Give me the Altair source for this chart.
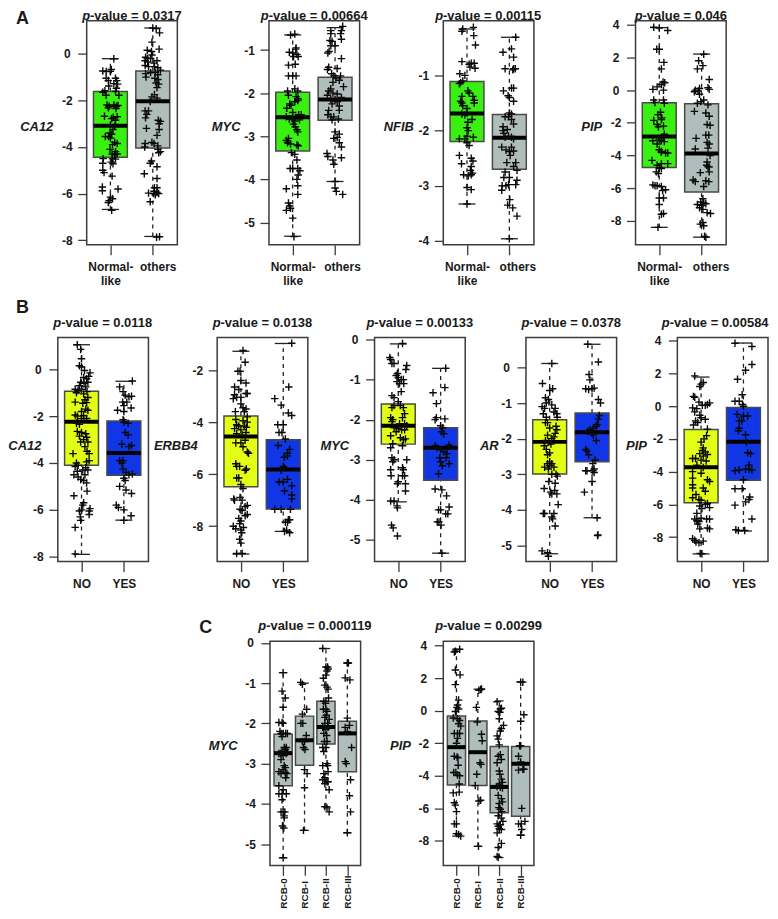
import json
import altair as alt
import pandas as pd

# ---- box statistics: (low whisker, q1, median, q3, high whisker) per group ----
STATS_A1 = [(-6.68, -4.44, -3.09, -1.62, -0.21), (-7.84, -4.04, -2.04, -0.74, 1.11)]
STATS_A2 = [(-5.32, -3.34, -2.56, -1.98, -0.65), (-4.05, -2.63, -2.15, -1.63, -0.48)]
STATS_A3 = [(-3.33, -2.2, -1.69, -1.11, -0.16), (-3.96, -2.7, -2.13, -1.71, -0.31)]
STATS_A4 = [(-8.4, -4.73, -2.84, -0.77, 3.83), (-9.0, -6.23, -3.88, -0.83, 2.21)]
STATS_B1 = [(-7.9, -4.1, -2.24, -0.94, 1.05), (-6.44, -4.52, -3.57, -2.21, -0.51)]
STATS_B2 = [(-9.07, -6.48, -4.55, -3.77, -1.28), (-8.2, -7.34, -5.82, -4.68, -0.98)]
STATS_B3 = [(-4.05, -2.61, -2.15, -1.61, -0.11), (-5.33, -3.51, -2.7, -2.2, -0.72)]
STATS_B4 = [(-5.23, -2.99, -2.09, -1.47, 0.11), (-4.22, -2.65, -1.82, -1.28, 0.65)]
STATS_B5 = [(-9.03, -5.9, -3.73, -1.42, 1.78), (-7.63, -4.52, -2.17, -0.08, 3.86)]
STATS_C1 = [(-5.34, -3.55, -2.74, -2.27, -0.74), (-4.66, -3.04, -2.42, -1.82, -1.0),
            (-4.07, -2.51, -2.09, -1.45, -0.14), (-4.72, -3.2, -2.25, -1.95, -0.5)]
STATS_C2 = [(-7.7, -4.56, -2.24, -0.33, 3.77), (-8.33, -4.6, -2.55, -0.63, 1.32),
            (-9.02, -6.27, -4.68, -2.2, 0.6), (-7.64, -6.48, -3.26, -2.2, 1.77)]

# ---- jittered observations: (jitter, value) per group ----
A1_NORMAL = [(.08,-.21),(.02,-.67),(-.18,-.74),(-.1,-.76),(.0,-.75),(.12,-1.05),(.15,-1.15),(-.1,-1.05),(-.05,-1.15),(.08,-1.28),(.17,-1.3),(-.04,-1.38),(.14,-1.48),(-.13,-1.58),(-.18,-1.65),(.12,-1.6),(-.1,-1.78),(.2,-1.78),(-.08,-2.2),(-.03,-2.25),(.08,-2.2),(.14,-2.25),(.18,-2.22),(-.05,-2.32),(.13,-2.35),(-.14,-2.68),(.07,-2.72),(.16,-2.7),(.03,-2.78),(.12,-2.85),(.0,-3.05),(.1,-3.1),(.06,-3.25),(-.01,-3.4),(.03,-3.45),(-.12,-3.55),(-.04,-3.55),(.0,-3.62),(.1,-3.8),(.16,-3.85),(.05,-3.9),(-.01,-4.1),(.12,-4.2),(.04,-4.3),(.1,-4.32),(.16,-4.3),(.05,-4.5),(.12,-4.52),(-.17,-4.5),(.02,-4.65),(.06,-4.72),(-.18,-4.7),(-.18,-5.0),(-.15,-5.1),(.04,-5.25),(-.19,-5.72),(-.19,-5.88),(.18,-5.8),(.0,-6.15),(.05,-6.22),(-.03,-6.3),(-.05,-6.38),(.03,-6.72)]
A1_OTHERS = [(.0,1.11),(.08,1.08),(.16,.9),(-.02,.5),(.15,.2),(-.13,.15),(-.03,.1),(-.17,-.15),(-.13,-.2),(-.02,-.05),(-.18,-.3),(-.12,-.35),(-.05,-.2),(.1,-.3),(.03,-.4),(-.18,-.5),(-.1,-.55),(.04,-.55),(.12,-.6),(.18,-.7),(-.17,-.85),(-.05,-.8),(.06,-.8),(.12,-.9),(.05,-1.05),(.12,-1.1),(-.16,-1.0),(.08,-1.25),(.14,-1.3),(.1,-1.45),(-.02,-1.85),(.04,-1.75),(.1,-1.9),(-.06,-2.05),(-.18,-2.45),(-.1,-2.45),(-.14,-2.6),(-.17,-2.75),(.13,-2.85),(.18,-2.9),(.15,-3.0),(-.15,-3.2),(.15,-3.25),(.1,-3.5),(-.18,-3.85),(-.02,-3.8),(.03,-3.85),(.12,-3.95),(-.19,-4.0),(.12,-4.1),(.18,-4.2),(.14,-4.25),(-.03,-4.6),(-.06,-4.7),(.1,-4.85),(-.2,-5.15),(.1,-5.35),(.04,-5.75),(.1,-5.75),(.03,-5.9),(-.1,-5.98),(.1,-5.95),(.14,-6.0),(.06,-6.05),(.02,-6.0),(-.06,-6.35),(.16,-7.85),(.09,-7.87)]
A2_NORMAL = [(.05,-.63),(-.05,-.65),(.08,-.95),(.07,-.98),(-.08,-1.05),(.0,-1.07),(.1,-1.1),(.13,-1.15),(.02,-1.15),(-.1,-1.35),(.06,-1.33),(.08,-1.6),(-.1,-1.6),(.0,-1.6),(.05,-1.9),(-.12,-1.95),(.12,-1.95),(-.1,-2.05),(.08,-2.08),(.13,-2.13),(.05,-2.2),(-.07,-2.25),(.12,-2.17),(-.04,-2.28),(-.14,-2.35),(.0,-2.45),(.14,-2.5),(.2,-2.5),(-.15,-2.55),(-.08,-2.6),(.0,-2.62),(.05,-2.65),(.16,-2.62),(.02,-2.72),(.06,-2.78),(.1,-2.85),(.12,-2.9),(-.1,-3.05),(-.15,-3.1),(-.12,-3.15),(-.05,-3.18),(.1,-3.2),(.13,-3.22),(-.03,-3.38),(.05,-3.42),(.1,-3.55),(-.06,-3.75),(.0,-3.75),(.12,-3.75),(.17,-3.8),(.13,-3.9),(.1,-4.0),(.12,-4.15),(-.15,-4.22),(.12,-4.35),(-.1,-4.55),(-.07,-4.62),(-.05,-4.67),(-.15,-4.72),(.0,-4.9),(.03,-5.33)]
A2_OTHERS = [(.18,-.45),(.15,-.55),(-.1,-.55),(-.1,-.62),(.13,-.62),(.15,-.75),(-.12,-.78),(-.07,-.8),(-.1,-.9),(.0,-.9),(-.14,-1.03),(-.17,-1.07),(.15,-1.2),(-.15,-1.4),(-.18,-1.45),(.05,-1.43),(-.08,-1.55),(-.03,-1.6),(.02,-1.65),(.13,-1.6),(.1,-1.7),(-.05,-1.75),(.2,-1.85),(-.1,-1.9),(-.15,-1.95),(-.05,-2.0),(-.18,-2.05),(.05,-2.02),(.15,-2.1),(-.1,-2.15),(.0,-2.15),(.05,-2.2),(-.07,-2.25),(.1,-2.3),(-.15,-2.4),(.1,-2.4),(-.17,-2.5),(-.1,-2.55),(-.03,-2.55),(.08,-2.6),(-.07,-2.62),(.0,-2.9),(.1,-2.95),(.05,-3.03),(-.03,-3.05),(.1,-3.15),(.15,-3.25),(-.19,-3.4),(-.17,-3.47),(.15,-3.5),(-.05,-3.55),(-.03,-3.65),(.0,-4.05),(.0,-4.2),(.03,-4.28),(.18,-4.35)]
A3_NORMAL = [(.15,-.13),(-.1,-.16),(-.12,-.2),(.16,-.28),(.2,-.45),(-.12,-.75),(.1,-.78),(.17,-.78),(.05,-.8),(.07,-.85),(.19,-.87),(-.17,-.97),(-.05,-1.0),(-.1,-1.1),(-.15,-1.13),(-.18,-1.15),(.02,-1.28),(.05,-1.32),(-.12,-1.38),(.14,-1.38),(-.15,-1.47),(.17,-1.45),(.17,-1.5),(-.12,-1.5),(.0,-1.6),(-.1,-1.55),(.0,-1.68),(-.12,-1.7),(-.05,-1.72),(.12,-1.8),(.02,-1.85),(.0,-1.95),(.03,-2.0),(.0,-2.1),(.15,-2.12),(-.18,-2.15),(-.05,-2.15),(.0,-2.22),(.05,-2.27),(-.18,-2.45),(.1,-2.5),(.14,-2.55),(-.13,-2.6),(.1,-2.65),(.08,-2.72),(.13,-2.77),(-.08,-2.8),(.1,-2.8),(.03,-2.82),(.0,-3.03),(.1,-3.07),(.0,-3.33)]
A3_OTHERS = [(.15,-.31),(.05,-.52),(-.15,-.58),(.1,-.67),(-.1,-.88),(.1,-.88),(.14,-.88),(.08,-.9),(-.14,-1.28),(.1,-1.23),(.05,-1.23),(-.03,-1.37),(.0,-1.4),(.1,-1.47),(.0,-1.68),(.05,-1.7),(-.1,-1.75),(-.02,-1.75),(.05,-1.8),(-.15,-1.93),(.1,-1.88),(-.15,-2.0),(-.05,-1.98),(-.13,-2.05),(-.1,-2.12),(-.02,-2.1),(.05,-2.12),(.1,-2.15),(-.18,-2.3),(.05,-2.3),(-.08,-2.35),(.0,-2.38),(.1,-2.37),(.02,-2.45),(-.06,-2.58),(.15,-2.58),(.1,-2.65),(.18,-2.72),(-.1,-2.75),(-.13,-2.85),(.0,-2.85),(.18,-2.9),(-.17,-3.0),(-.08,-3.0),(-.02,-2.98),(.15,-2.98),(-.18,-3.08),(.01,-3.25),(-.04,-3.35),(.08,-3.4),(.18,-3.55),(.0,-3.96)]
A4_NORMAL = [(-.13,3.85),(.0,3.8),(.2,3.65),(-.06,2.5),(.0,2.5),(.11,1.7),(.05,1.3),(.09,.5),(.13,.45),(.05,.35),(-.15,.05),(-.05,.2),(.1,.0),(-.13,-.6),(-.1,-.75),(.1,-.6),(.12,-.8),(.03,-1.35),(-.03,-1.5),(.06,-1.7),(-.13,-1.85),(.05,-1.8),(-.05,-2.1),(-.02,-2.25),(.1,-2.2),(.12,-2.7),(.1,-2.85),(.0,-3.0),(-.15,-3.1),(.05,-3.1),(-.05,-3.3),(.12,-3.15),(.0,-3.65),(.05,-3.75),(.15,-3.85),(.2,-3.85),(.05,-3.8),(-.17,-4.3),(.05,-4.5),(.2,-4.5),(-.05,-4.6),(.0,-4.75),(.05,-4.8),(-.07,-5.0),(-.02,-5.1),(-.15,-5.8),(-.1,-5.85),(-.05,-5.85),(.05,-5.9),(.08,-6.15),(.15,-6.1),(.0,-6.6),(.1,-6.6),(.0,-7.0),(.05,-7.6),(.1,-7.55),(-.03,-8.4)]
A4_OTHERS = [(.05,2.2),(-.07,1.8),(.03,1.5),(-.1,1.3),(.18,.65),(-.15,.0),(-.05,.1),(.15,.15),(.18,.05),(-.17,-.1),(-.08,-.05),(-.05,-.25),(.05,-.6),(-.02,-.7),(-.1,-.8),(.15,-.9),(-.17,-1.3),(.1,-1.4),(.18,-1.6),(.13,-2.1),(.2,-2.15),(-.13,-2.95),(.1,-2.75),(.17,-2.75),(.13,-3.2),(.18,-3.3),(-.15,-3.6),(.15,-3.55),(.2,-4.0),(.13,-4.4),(.12,-4.6),(.15,-4.7),(.18,-4.7),(.18,-5.0),(-.03,-5.05),(-.2,-5.5),(-.15,-5.6),(.1,-5.55),(.17,-5.6),(.05,-5.9),(.03,-6.65),(-.02,-6.85),(.05,-6.9),(-.1,-7.0),(.0,-7.05),(.1,-6.95),(-.05,-7.2),(.03,-7.3),(.13,-7.5),(.21,-7.55),(.03,-8.1),(.05,-8.3),(-.03,-8.2),(.07,-8.95),(.1,-9.0)]
B1_NO = [(-.1,1.05),(-.02,.85),(.0,.45),(-.05,.15),(.0,.1),(.07,-.05),(.2,-.15),(.17,-.3),(.12,-.4),(.05,-.35),(.15,-.55),(-.02,-.55),(.06,-.6),(-.05,-.7),(.1,-.75),(-.15,-.85),(-.08,-.9),(.0,-.85),(.13,-.95),(-.12,-1.0),(.05,-1.05),(.15,-1.2),(.08,-1.3),(-.15,-1.4),(.03,-1.45),(.12,-1.42),(.1,-1.7),(.0,-1.8),(.15,-1.75),(-.15,-1.95),(-.1,-2.0),(.05,-1.98),(.0,-2.1),(.12,-2.1),(-.12,-2.3),(-.05,-2.35),(-.1,-2.65),(.0,-2.7),(.1,-2.75),(-.05,-2.85),(.12,-2.9),(.05,-3.0),(-.02,-3.1),(.15,-3.1),(.08,-3.3),(.13,-3.5),(.18,-3.6),(-.2,-3.6),(.18,-3.9),(.12,-3.95),(-.12,-4.0),(-.15,-4.15),(-.08,-4.1),(.1,-4.2),(.15,-4.3),(-.1,-4.35),(.03,-4.3),(-.18,-4.5),(.08,-4.5),(-.08,-4.6),(-.02,-4.7),(.05,-4.75),(.12,-4.85),(.13,-5.2),(-.18,-5.4),(.05,-5.7),(.03,-5.8),(.2,-5.95),(.0,-6.0),(-.05,-6.05),(.18,-6.05),(.18,-6.2),(-.03,-6.3),(-.02,-6.45),(-.15,-6.75),(-.15,-7.88)]
B1_YES = [(.2,-.5),(-.1,-.75),(-.02,-.95),(.03,-1.1),(.12,-1.17),(.18,-1.15),(-.03,-1.4),(.07,-1.4),(.0,-1.55),(.17,-1.65),(-.15,-1.75),(.0,-1.8),(.1,-2.3),(.0,-2.25),(-.02,-2.15),(.03,-2.7),(.1,-2.8),(-.05,-3.2),(.18,-3.25),(.12,-3.3),(-.02,-3.9),(-.1,-3.9),(-.05,-4.0),(-.02,-4.25),(.05,-4.4),(.2,-4.47),(.12,-4.5),(.0,-4.65),(.03,-4.75),(-.1,-5.0),(.05,-5.15),(.18,-5.3),(-.18,-5.8),(-.13,-5.9),(.0,-6.0),(.17,-6.25),(.0,-6.45)]
B2_NO = [(.05,-1.25),(.1,-1.7),(-.07,-2.05),(-.02,-2.05),(.0,-2.4),(.12,-2.5),(-.15,-2.65),(-.05,-2.75),(.15,-2.9),(.12,-2.9),(-.15,-2.95),(-.1,-3.05),(.0,-3.05),(-.18,-3.1),(.0,-3.3),(.05,-3.45),(.12,-3.5),(-.13,-3.6),(.08,-3.6),(.15,-3.8),(-.12,-3.9),(.05,-3.95),(.15,-4.0),(-.1,-4.1),(-.05,-4.15),(.08,-4.15),(.13,-4.2),(-.15,-4.25),(.0,-4.3),(.12,-4.4),(-.1,-4.45),(.03,-4.5),(.1,-4.7),(-.12,-4.8),(.0,-4.8),(.05,-4.95),(.15,-5.15),(.18,-5.2),(-.12,-5.6),(-.1,-5.7),(-.03,-5.7),(.1,-5.85),(.13,-5.8),(-.1,-6.15),(-.05,-6.15),(.0,-6.4),(.05,-6.55),(-.02,-6.9),(-.17,-6.95),(-.15,-7.0),(.03,-7.0),(.1,-7.25),(.15,-7.2),(-.02,-7.35),(.03,-7.4),(.15,-7.55),(.1,-7.6),(-.05,-7.7),(.0,-7.8),(-.03,-7.9),(-.18,-8.0),(.06,-8.05),(-.12,-8.1),(.0,-8.15),(.02,-8.25),(-.03,-8.5),(.0,-8.65),(.03,-9.05),(-.1,-9.05)]
B2_YES = [(.2,-.97),(.13,-2.65),(-.2,-3.1),(-.05,-3.35),(.12,-3.65),(.2,-3.75),(-.13,-4.1),(.0,-4.1),(-.03,-4.4),(-.1,-4.4),(.05,-4.65),(-.12,-4.9),(.15,-5.05),(.1,-5.2),(.02,-5.35),(.1,-5.3),(.0,-5.7),(-.05,-5.85),(.03,-5.75),(-.1,-6.3),(.1,-6.2),(.0,-6.3),(.2,-6.45),(.03,-6.65),(.2,-6.8),(.2,-6.95),(-.2,-7.35),(-.05,-7.35),(.17,-7.35),(.12,-7.75),(.05,-7.85),(.1,-7.85),(.15,-7.75),(.03,-8.2),(.08,-8.15),(.15,-8.25)]
B3_NO = [(.1,-.1),(-.2,-.45),(-.18,-.5),(-.15,-.6),(-.1,-.6),(.2,-.65),(.18,-.75),(-.02,-.85),(-.05,-.9),(.0,-.95),(.07,-1.0),(.12,-1.0),(-.03,-1.05),(.03,-1.1),(.13,-1.1),(.07,-1.3),(-.15,-1.4),(-.1,-1.45),(.0,-1.55),(.05,-1.65),(-.15,-1.7),(-.1,-1.65),(.12,-1.7),(.15,-1.85),(-.18,-1.95),(-.13,-2.0),(.1,-1.95),(-.15,-2.05),(.03,-2.1),(.15,-2.1),(.2,-2.15),(-.1,-2.2),(.0,-2.22),(.08,-2.25),(-.05,-2.3),(.15,-2.25),(-.18,-2.4),(.05,-2.45),(.12,-2.5),(.17,-2.48),(-.13,-2.6),(.1,-2.65),(-.18,-2.7),(-.15,-2.95),(-.1,-3.0),(.2,-3.0),(-.13,-3.05),(.1,-3.2),(.12,-3.25),(-.18,-3.25),(-.17,-3.4),(.1,-3.4),(.15,-3.4),(.0,-3.55),(-.02,-3.6),(.17,-3.6),(.17,-3.78),(-.18,-4.03),(-.1,-4.03),(-.03,-4.15),(-.02,-4.2),(-.16,-4.63),(-.12,-4.7),(-.02,-4.9)]
B3_YES = [(.12,-.72),(.1,-1.2),(-.18,-1.33),(-.1,-1.6),(-.1,-1.95),(-.13,-2.0),(.1,-1.98),(.0,-2.15),(.05,-2.2),(.02,-2.3),(.07,-2.35),(.2,-2.63),(-.13,-2.65),(-.08,-2.7),(.0,-2.75),(.07,-2.8),(.15,-2.85),(.13,-2.95),(-.02,-2.95),(.0,-3.05),(.04,-3.15),(.2,-3.1),(-.05,-3.35),(-.13,-3.73),(.03,-3.75),(.14,-3.9),(.2,-4.18),(-.05,-4.25),(.0,-4.25),(.12,-4.35),(.17,-4.35),(-.08,-4.55),(-.04,-4.55),(.01,-4.63),(.03,-5.33)]
B4_NO = [(.05,.11),(-.17,-.45),(.07,-.6),(.0,-.65),(-.03,-.9),(-.1,-.85),(-.08,-1.0),(-.18,-1.1),(-.12,-1.15),(.05,-1.05),(.13,-1.15),(.1,-1.25),(.17,-1.3),(-.15,-1.3),(-.08,-1.4),(.18,-1.4),(-.1,-1.55),(-.05,-1.55),(.0,-1.7),(.15,-1.65),(.17,-1.75),(-.05,-1.9),(.13,-1.85),(.1,-1.95),(.05,-2.0),(-.1,-2.05),(-.02,-2.1),(-.13,-2.2),(.03,-2.15),(-.08,-2.3),(.0,-2.4),(-.05,-2.45),(-.05,-2.7),(.0,-2.65),(.05,-2.7),(-.12,-2.8),(.0,-2.75),(.1,-2.8),(-.03,-2.85),(.15,-3.0),(.05,-3.0),(.18,-3.05),(-.02,-3.2),(.13,-3.25),(-.13,-3.4),(.02,-3.5),(.12,-3.45),(.17,-3.55),(.05,-3.55),(.2,-3.85),(-.15,-4.1),(-.12,-4.1),(.1,-4.1),(.05,-4.2),(.07,-4.25),(.13,-4.45),(-.18,-5.15),(-.05,-5.2),(-.03,-5.3)]
B4_YES = [(-.1,.65),(.15,.15),(-.07,-.2),(-.05,-.35),(-.15,-.6),(-.08,-.62),(.0,-.6),(.05,-.58),(.15,-.9),(.2,-1.0),(.17,-1.35),(.15,-1.45),(.12,-1.6),(.1,-1.65),(.03,-1.7),(-.05,-1.75),(-.1,-1.8),(.0,-1.85),(.03,-1.9),(.1,-2.05),(-.15,-2.3),(-.12,-2.35),(-.08,-2.45),(.07,-2.6),(.02,-2.7),(-.12,-2.9),(-.15,-2.9),(.02,-2.9),(.05,-2.85),(.05,-2.95),(.0,-3.2),(-.18,-3.5),(.12,-4.22),(.13,-4.72),(.14,-4.7)]
B5_NO = [(-.15,1.85),(.05,1.45),(.0,1.35),(-.03,1.2),(-.18,.6),(-.15,.55),(-.05,.25),(.2,.2),(.15,.1),(.1,.05),(.03,.05),(-.2,-.1),(-.1,-.15),(-.15,-.35),(-.03,-.55),(.0,-.7),(.1,-.8),(-.13,-.9),(-.08,-1.0),(-.18,-1.15),(.15,-1.4),(.13,-1.8),(.07,-2.0),(.0,-2.2),(.05,-2.55),(.03,-2.7),(.1,-2.8),(-.03,-2.9),(.15,-2.95),(.05,-3.05),(-.2,-3.2),(-.13,-3.2),(.0,-3.3),(.12,-3.35),(-.1,-3.6),(.05,-3.75),(-.2,-4.0),(.0,-4.1),(-.2,-4.4),(.15,-4.5),(.2,-4.6),(-.2,-4.8),(.05,-5.0),(-.2,-5.0),(.1,-5.2),(-.12,-5.4),(-.2,-5.6),(-.05,-5.7),(.0,-5.75),(.15,-5.95),(.1,-6.0),(-.03,-6.1),(.2,-6.2),(.02,-6.25),(-.1,-6.55),(-.15,-6.9),(-.1,-7.0),(-.05,-7.05),(.0,-6.85),(.13,-6.9),(.2,-6.9),(-.08,-7.2),(-.03,-7.5),(.15,-7.45),(.2,-7.5),(-.2,-8.1),(-.15,-8.2),(-.12,-8.3),(-.05,-8.35),(.05,-8.25),(-.02,-9.0),(.02,-9.02)]
B5_YES = [(-.2,3.85),(.2,3.65),(.2,2.55),(.05,2.2),(-.14,1.65),(-.03,.7),(-.2,.3),(-.1,.3),(-.02,.1),(.0,.0),(-.15,-.5),(.0,-.6),(.1,-.6),(-.1,-.9),(-.04,-.9),(-.1,-1.35),(-.12,-1.5),(.05,-1.75),(.07,-2.2),(.1,-2.85),(.17,-2.9),(.13,-3.6),(.05,-3.85),(.13,-3.85),(.2,-3.9),(-.2,-3.95),(-.1,-3.9),(.0,-4.5),(-.2,-5.05),(-.03,-5.05),(.15,-5.55),(.13,-5.7),(.05,-5.85),(-.2,-6.05),(.2,-6.9),(-.18,-7.55),(-.12,-7.6),(.03,-7.6)]
C1_R0 = [(.0,-.74),(-.05,-1.2),(.1,-1.37),(.0,-1.6),(-.2,-1.98),(-.05,-1.98),(.0,-2.0),(-.15,-2.2),(-.1,-2.25),(.0,-2.25),(.12,-2.25),(.2,-2.25),(-.05,-2.33),(.15,-2.6),(.05,-2.6),(-.05,-2.7),(.1,-2.65),(-.2,-2.75),(-.12,-2.75),(.0,-2.8),(.15,-2.75),(.2,-2.72),(-.1,-2.9),(.05,-3.05),(.1,-3.1),(.0,-3.15),(-.2,-3.2),(-.1,-3.25),(.1,-3.22),(.18,-3.25),(.12,-3.35),(-.2,-3.55),(.0,-3.65),(-.2,-3.75),(.15,-3.75),(-.05,-3.75),(-.05,-3.9),(-.1,-4.2),(.0,-4.2),(.05,-4.3),(.08,-4.2),(.05,-4.35),(-.03,-4.55),(.03,-4.6),(.0,-5.34)]
C1_R1 = [(-.18,-.98),(-.1,-1.03),(.1,-1.65),(-.1,-1.77),(-.17,-2.0),(-.08,-2.0),(.08,-2.3),(-.1,-2.45),(.0,-2.45),(-.05,-2.6),(.02,-2.65),(.0,-3.15),(.12,-3.25),(.0,-3.6),(-.05,-4.66)]
C1_R2 = [(-.15,-.14),(.0,-.6),(.08,-.6),(.1,-.65),(.05,-.7),(.0,-.8),(-.12,-.88),(-.05,-1.05),(.05,-1.1),(.1,-1.15),(-.1,-1.45),(.12,-1.37),(-.02,-1.5),(.0,-1.65),(-.12,-1.65),(.05,-1.7),(.02,-1.8),(-.05,-1.85),(.15,-1.9),(-.05,-2.0),(.08,-2.0),(-.15,-2.1),(.0,-2.15),(.1,-2.1),(-.1,-2.25),(.03,-2.3),(-.07,-2.45),(.05,-2.45),(-.15,-2.6),(.0,-2.6),(-.1,-2.7),(-.15,-3.05),(.05,-3.0),(.08,-3.05),(.1,-3.2),(-.1,-3.25),(-.05,-3.35),(-.15,-3.4),(.05,-3.45),(-.05,-3.5),(.1,-3.45),(.15,-3.65),(-.05,-4.07),(.05,-4.1),(.15,-4.2)]
C1_R3 = [(.0,-.5),(.05,-.5),(-.1,-.87),(.12,-.92),(.0,-1.87),(-.1,-2.1),(.1,-2.05),(.0,-2.2),(.2,-2.6),(-.1,-2.95),(-.05,-3.0),(.15,-3.4),(.1,-3.8),(.15,-4.2),(.0,-4.72)]
C2_R0 = [(-.1,3.6),(-.05,3.65),(.15,3.77),(-.05,2.5),(.17,2.2),(-.05,1.6),(.1,.65),(.05,.35),(.02,.2),(.1,.1),(-.05,-.05),(-.15,-.45),(.05,-.5),(.15,-.6),(.1,-.8),(.2,-.95),(-.1,-1.4),(.05,-1.4),(.15,-1.4),(.05,-1.7),(.0,-2.0),(-.1,-2.8),(.03,-2.85),(.07,-2.9),(.08,-3.35),(-.13,-3.8),(-.03,-3.8),(.05,-3.95),(.15,-4.0),(.13,-4.5),(-.15,-5.05),(.13,-5.0),(-.1,-5.65),(-.05,-5.8),(.0,-6.2),(-.1,-6.95),(.0,-6.95),(.0,-7.55),(.1,-7.6),(.2,-7.7)]
C2_R1 = [(.05,1.25),(.13,1.3),(.17,1.33),(-.07,.2),(-.03,-.7),(.17,-1.45),(.2,-1.85),(.1,-3.2),(.15,-3.3),(-.05,-3.9),(.05,-5.55),(.13,-5.5),(.03,-8.33),(-.12,-4.6)]
C2_R2 = [(-.1,.55),(.05,.1),(.1,.15),(-.05,-.05),(.03,-.1),(.0,-.5),(.2,-.9),(.1,-1.1),(.05,-1.25),(-.1,-1.55),(-.05,-1.75),(.0,-2.1),(.05,-2.7),(-.05,-2.8),(.1,-3.0),(-.1,-3.2),(.0,-3.7),(.03,-3.9),(.1,-4.2),(.15,-4.4),(.0,-4.5),(-.1,-4.65),(.05,-4.7),(.15,-4.75),(-.05,-5.2),(.1,-5.4),(.0,-5.7),(.15,-5.6),(-.02,-5.95),(.05,-6.05),(.12,-6.2),(-.05,-6.45),(.1,-6.6),(.17,-6.8),(-.1,-6.95),(.05,-7.0),(-.05,-7.1),(.0,-7.25),(.1,-7.3),(-.1,-7.5),(.1,-8.15),(-.05,-8.4),(-.1,-8.95),(-.05,-9.0)]
C2_R3 = [(.0,1.75),(.1,1.75),(.15,-.25),(.0,-.65),(-.05,-2.15),(.0,-2.15),(-.1,-2.8),(.0,-3.15),(.1,-3.6),(.15,-3.6),(-.1,-3.65),(.05,-6.0),(-.1,-6.95),(.03,-6.95),(.2,-6.8),(.05,-7.3),(.0,-7.65)]

LABELS_SUBTYPE = ["Normal-|like", "others"]
LABELS_YESNO = ["NO", "YES"]
LABELS_RCB = ["RCB-0", "RCB-I", "RCB-II", "RCB-III"]

GREEN, GREY, YELLOW, BLUE = "#39F012", "#AFBDBB", "#E3FF16", "#1136E6"
INK = "#1a1a1a"
FRAME = "#3c3c3c"
FONT = "Liberation Sans"
W, H = 91, 225
PLUS = "M-1,0H1M0,-1V1"


def spacer(w=1, h=1):
    return (alt.Chart(pd.DataFrame({"v": [0]})).mark_point(size=1, opacity=0)
            .encode(x=alt.value(w / 2), y=alt.value(h / 2))
            .properties(width=w, height=h))


def panel(gene, pval, stats, points, labels, colors, ydom, yticks, title_x,
          title_y=106, others_shift=0, letter=None, title_gap=1.0, title_dx=0):
    n = len(stats)
    pos = list(range(1, n + 1))
    half = 0.4 if n == 2 else 0.425
    xdom = [0.44, 2.58] if n == 2 else [0.385, 4.62]
    box = pd.DataFrame([
        {"x1": p - half, "x2": p + half, "cx": p, "c1": p - .2, "c2": p + .2,
         "low": s[0], "q1": s[1], "med": s[2], "q3": s[3], "high": s[4], "col": c}
        for p, s, c in zip(pos, stats, colors)])
    pts = pd.DataFrame([{"x": p + j, "y": v} for p, grp in zip(pos, points) for j, v in grp])

    xs = alt.Scale(domain=xdom, nice=False, zero=False)
    ys = alt.Scale(domain=ydom, nice=False, zero=False)
    rotated = n > 2
    lab_js = json.dumps(labels)
    xaxis = alt.Axis(
        values=pos, tickCount=len(pos), title=None, grid=False, domain=False, tickSize=10, tickWidth=1.3,
        tickColor=FRAME, labelFont=FONT, labelFontWeight="bold", labelColor=INK,
        labelFontSize=10 if rotated else 12, labelPadding=33 if rotated else 7,
        labelAngle=270 if rotated else 0, labelAlign="left" if rotated else "center",
        labelBaseline="middle" if rotated else "top", labelOverlap=False,
        labelExpr=f"split({lab_js}[datum.value-1],'|')",
        labelOffset={"condition": {"test": "datum.value==2", "value": others_shift}, "value": 0},
    )
    yaxis = alt.Axis(
        values=yticks, tickCount=len(yticks), title=gene, titleAngle=0, titleAlign="right", titleBaseline="middle",
        titleX=title_x, titleY=title_y, titleFont=FONT, titleFontSize=13, titleFontWeight="bold",
        titleFontStyle="italic", titleColor=INK, grid=False, domain=False, tickSize=9,
        tickWidth=1.3, tickColor=FRAME, labelFont=FONT, labelFontWeight="bold",
        labelFontSize=12, labelColor=INK, labelAlign="center", labelPadding=11,
        labelBaseline="middle", labelOverlap=False, labelExpr="'' + datum.value",
    )
    base = alt.Chart(box)
    whisk_style = dict(color="#222222", strokeWidth=1.3, strokeDash=[4, 4])
    layers = [
        base.mark_rule(**whisk_style).encode(x=alt.X("cx:Q", scale=xs, axis=xaxis),
                                             y=alt.Y("low:Q", scale=ys, axis=yaxis), y2="q1:Q"),
        base.mark_rule(**whisk_style).encode(x=alt.X("cx:Q", scale=xs), y=alt.Y("q3:Q", scale=ys), y2="high:Q"),
        base.mark_rule(color="#222222", strokeWidth=1.3).encode(x=alt.X("c1:Q", scale=xs), x2="c2:Q", y=alt.Y("low:Q", scale=ys)),
        base.mark_rule(color="#222222", strokeWidth=1.3).encode(x=alt.X("c1:Q", scale=xs), x2="c2:Q", y=alt.Y("high:Q", scale=ys)),
        base.mark_rect(stroke="#4a4a4a", strokeWidth=1.5).encode(
            x=alt.X("x1:Q", scale=xs), x2="x2:Q", y=alt.Y("q1:Q", scale=ys), y2="q3:Q",
            fill=alt.Fill("col:N", scale=None)),
        base.mark_rule(color="#000000", strokeWidth=4).encode(x=alt.X("x1:Q", scale=xs), x2="x2:Q", y=alt.Y("med:Q", scale=ys)),
        alt.Chart(pts).mark_point(shape=PLUS, filled=False, size=56, color="#0a0a0a", strokeWidth=1.4, opacity=1).encode(
            x=alt.X("x:Q", scale=xs), y=alt.Y("y:Q", scale=ys)),
    ]
    # mixed-style p-value heading: italic "p" + bold remainder
    rest = "-value = " + pval
    em = {"-": .333, ".": .278, " ": .278, "=": .584, "v": .556, "a": .556, "l": .278, "u": .611, "e": .556}
    rest_w = sum(em.get(ch, .556) for ch in rest) * 13
    start = W / 2 - (rest_w + 7.9) / 2 + title_dx
    tbl = alt.Chart(pd.DataFrame({"v": [0]}))
    tstyle = dict(font=FONT, fontSize=13, fontWeight="bold", color=INK, baseline="alphabetic")
    layers += [
        tbl.mark_text(text="p", align="left", fontStyle="italic", **tstyle).encode(
            x=alt.value(start), y=alt.value(-title_gap)),
        tbl.mark_text(text=rest, align="left", **tstyle).encode(
            x=alt.value(start + 7.9), y=alt.value(-title_gap)),
    ]
    if letter:
        ch, lx, ly = letter
        layers.append(tbl.mark_text(text=ch, align="left", baseline="alphabetic", font=FONT, fontSize=18,
                                    fontWeight="bold", color=INK).encode(x=alt.value(lx), y=alt.value(ly)))
    return alt.layer(*layers).properties(
        width=W, height=H, view=alt.ViewBackground(stroke=FRAME, strokeWidth=1.5))


A_COL = [GREEN, GREY]
B_COL = [YELLOW, BLUE]
C_COL = [GREY] * 4

a1 = panel("CA12", "0.0317", STATS_A1, [A1_NORMAL, A1_OTHERS], LABELS_SUBTYPE, A_COL, [-8.2, 1.42], [0, -2, -4, -6, -8], -34, others_shift=5, letter=("A", -71, 3.5))
a2 = panel("MYC", "0.00664", STATS_A2, [A2_NORMAL, A2_OTHERS], LABELS_SUBTYPE, A_COL, [-5.52, -0.32], [-1, -2, -3, -4, -5], -29, others_shift=7)
a3 = panel("NFIB", "0.00115", STATS_A3, [A3_NORMAL, A3_OTHERS], LABELS_SUBTYPE, A_COL, [-4.07, -0.01], [-1, -2, -3, -4], -30, others_shift=8)
a4 = panel("PIP", "0.046", STATS_A4, [A4_NORMAL, A4_OTHERS], LABELS_SUBTYPE, A_COL, [-9.47, 4.25], [4, 2, 0, -2, -4, -6, -8], -34, others_shift=9)

b1 = panel("CA12", "0.0118", STATS_B1, [B1_NO, B1_YES], LABELS_YESNO, B_COL, [-8.21, 1.36], [0, -2, -4, -6, -8], -17, title_y=108, title_gap=11, letter=("B", -42, -24.7))
b2 = panel("ERBB4", "0.0138", STATS_B2, [B2_NO, B2_YES], LABELS_YESNO, B_COL, [-9.36, -0.75], [-2, -4, -6, -8], -20, title_y=108, title_gap=11)
b3 = panel("MYC", "0.00133", STATS_B3, [B3_NO, B3_YES], LABELS_YESNO, B_COL, [-5.54, 0.05], [0, -1, -2, -3, -4, -5], -26, title_y=108, title_gap=11)
b4 = panel("AR", "0.0378", STATS_B4, [B4_NO, B4_YES], LABELS_YESNO, B_COL, [-5.45, 0.84], [0, -1, -2, -3, -4, -5], -28, title_y=108, title_gap=11)
b5 = panel("PIP", "0.00584", STATS_B5, [B5_NO, B5_YES], LABELS_YESNO, B_COL, [-9.5, 4.2], [4, 2, 0, -2, -4, -6, -8], -31, title_y=108, title_gap=11, title_dx=-7.5)

c1 = panel("MYC", "0.000119", STATS_C1, [C1_R0, C1_R1, C1_R2, C1_R3], LABELS_RCB, C_COL, [-5.53, 0.04], [0, -1, -2, -3, -4, -5], -33, title_y=105, title_gap=11, letter=("C", -71, -8))
c2 = panel("PIP", "0.00299", STATS_C2, [C2_R0, C2_R1, C2_R2, C2_R3], LABELS_RCB, C_COL, [-9.5, 4.26], [4, 2, 0, -2, -4, -6, -8], -33, title_y=105, title_gap=11)


def row(left, items, gaps):
    parts = [spacer(left)]
    for i, it in enumerate(items):
        parts.append(it)
        if i < len(gaps):
            parts.append(spacer(gaps[i]))
    return alt.hconcat(*parts, spacing=0, bounds="flush")


row_a = row(80, [a1, a2, a3, a4], [92, 84, 102])
row_b = row(51, [b1, b2, b3, b4, b5], [69, 67, 61, 61])
row_c = row(264, [c1, c2], [83])

chart = alt.vconcat(row_a, spacer(1, 318), row_b, spacer(1, 305), row_c,
                    spacing=0, bounds="flush").properties(
    padding={"left": -1, "top": -1, "right": 0, "bottom": 0},
).configure_view(stroke=None)

chart.save("out.html", embed_options={"renderer": "svg", "actions": False})
